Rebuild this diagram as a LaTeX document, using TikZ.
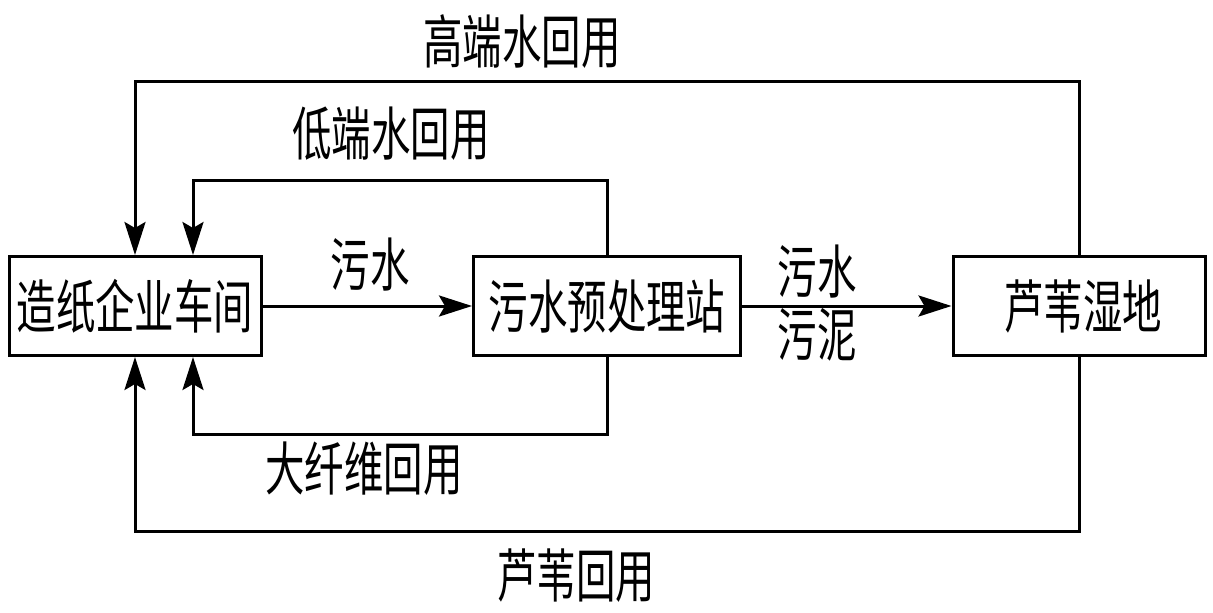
\documentclass[tikz,border=0pt]{standalone}
\usepackage{fontspec}
\newfontfamily\cjk[FakeStretch=0.68]{Noto Sans CJK SC}
\usetikzlibrary{arrows.meta}
\tikzset{
  box/.style={draw, line width=3pt, minimum width=252pt, minimum height=99pt, inner sep=0pt, font=\cjk\fontsize{58}{64}\selectfont},
  lbl/.style={inner sep=0pt, font=\cjk\fontsize{58}{64}\selectfont, align=center},
  arr/.style={line width=3pt, -{Stealth[length=33pt,width=21pt,inset=6pt]}}
}
\begin{document}
\begin{tikzpicture}[x=1pt,y=-1pt]
\useasboundingbox (0,0) rectangle (1213,613);
\node[box] (a) at (135,306) {造纸企业车间};
\node[box, minimum width=267pt] (b) at (607,306) {污水预处理站};
\node[box] (c) at (1079,306) {\hspace*{8pt}芦苇湿地};
\coordinate (lowL) at (193,180);
\coordinate (hiL) at (135,81);
\coordinate (fibL) at (193,434);
\coordinate (reedL) at (135,531);
\draw[arr] (a.east) -- (b.west);
\draw[arr] (b.east) -- (c.west);
\draw[arr] (b.north) |- (lowL) -- (lowL |- a.north);
\draw[arr] (c.north) |- (hiL) -- (hiL |- a.north);
\draw[arr] (b.south) |- (fibL) -- (fibL |- a.south);
\draw[arr] (c.south) |- (reedL) -- (reedL |- a.south);
\node[lbl] (t1) at (522,42) {高端水回用};
\node[lbl] (t2) at (391,134) {低端水回用};
\node[lbl] (t3) at (370,265) {污水};
\node[lbl] (t4) at (817,272) {污水};
\node[lbl] (t5) at (817,335) {污泥};
\node[lbl] (t6) at (364,469) {大纤维回用};
\node[lbl] (t7) at (576,576) {芦苇回用};
\end{tikzpicture}
\end{document}
